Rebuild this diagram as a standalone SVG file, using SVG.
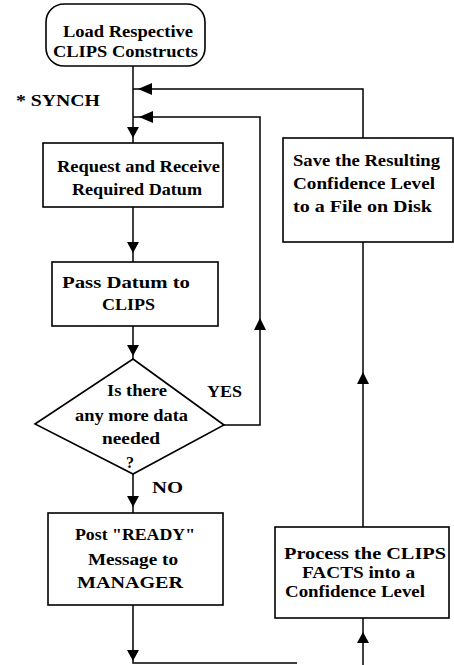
<svg xmlns="http://www.w3.org/2000/svg" width="454" height="665" viewBox="0 0 454 665">
<style>
.box{fill:#fff;stroke:#000;stroke-width:1.6}
.ln{fill:none;stroke:#000;stroke-width:1.5}
.ah{fill:#000;stroke:none}
text{font-family:"Liberation Serif","Times New Roman",serif;font-weight:bold;font-size:16px;fill:#000}
</style>
<rect width="454" height="665" fill="#fff"/>
<g id="connectors">
<path class="ln" d="M133 66 V143"/>
<path class="ln" d="M133 207 V262"/>
<path class="ln" d="M133 326 V359"/>
<path class="ln" d="M133 474 V513"/>
<path class="ln" d="M133 605 V663 H297"/>
<path class="ln" d="M224 425 H260 V117 H133"/>
<path class="ln" d="M363 665 V618"/>
<path class="ln" d="M363 527 V242"/>
<path class="ln" d="M363 138 V89 H133"/>
<path class="ah" d="M127 127 L139 127 L133 138 Z"/>
<path class="ah" d="M127 242 L139 242 L133 253 Z"/>
<path class="ah" d="M127 345 L139 345 L133 356 Z"/>
<path class="ah" d="M127 496 L139 496 L133 507 Z"/>
<path class="ah" d="M127 650 L139 650 L133 661 Z"/>
<path class="ah" d="M138 89 L152 83 L152 95 Z"/>
<path class="ah" d="M139 117 L153 111 L153 123 Z"/>
<path class="ah" d="M254 330 L266 330 L260 318 Z"/>
<path class="ah" d="M357 384 L369 384 L363 372 Z"/>
<path class="ah" d="M357 643 L369 643 L363 632 Z"/>
<text x="16" y="106" textLength="84" lengthAdjust="spacingAndGlyphs">* SYNCH</text>
<text x="207" y="397" textLength="35" lengthAdjust="spacingAndGlyphs">YES</text>
<text x="152" y="493" textLength="31" lengthAdjust="spacingAndGlyphs">NO</text>
</g>
<g id="start">
<rect class="box" x="46" y="4" width="159" height="62" rx="18"/>
<text x="63" y="37" textLength="130" lengthAdjust="spacingAndGlyphs">Load Respective</text>
<text x="53" y="57" textLength="145" lengthAdjust="spacingAndGlyphs">CLIPS Constructs</text>
</g>
<g id="request">
<rect class="box" x="43" y="143" width="180" height="64"/>
<text x="57" y="172" textLength="163" lengthAdjust="spacingAndGlyphs">Request and Receive</text>
<text x="72" y="195" textLength="130" lengthAdjust="spacingAndGlyphs">Required Datum</text>
</g>
<g id="pass">
<rect class="box" x="52" y="262" width="166" height="64"/>
<text x="62" y="288" textLength="128" lengthAdjust="spacingAndGlyphs">Pass Datum to</text>
<text x="102" y="310" textLength="53" lengthAdjust="spacingAndGlyphs">CLIPS</text>
</g>
<g id="decision">
<path class="box" d="M133 359 L224 425 L133 474 L35 424 Z"/>
<text x="107" y="396" textLength="60" lengthAdjust="spacingAndGlyphs">Is there</text>
<text x="75" y="421" textLength="113" lengthAdjust="spacingAndGlyphs">any more data</text>
<text x="102" y="444" textLength="58" lengthAdjust="spacingAndGlyphs">needed</text>
<text x="126" y="468">?</text>
</g>
<g id="post">
<rect class="box" x="48" y="513" width="175" height="92"/>
<text x="75" y="540" textLength="120" lengthAdjust="spacingAndGlyphs">Post "READY"</text>
<text x="88" y="565" textLength="90" lengthAdjust="spacingAndGlyphs">Message to</text>
<text x="77" y="588" textLength="106" lengthAdjust="spacingAndGlyphs">MANAGER</text>
</g>
<g id="save">
<rect class="box" x="283" y="138" width="170" height="104"/>
<text x="293" y="166" textLength="147" lengthAdjust="spacingAndGlyphs">Save the Resulting</text>
<text x="293" y="189" textLength="142" lengthAdjust="spacingAndGlyphs">Confidence Level</text>
<text x="293" y="212" textLength="139" lengthAdjust="spacingAndGlyphs">to a File on Disk</text>
</g>
<g id="process">
<rect class="box" x="275" y="527" width="174" height="91"/>
<text x="284" y="559" textLength="162" lengthAdjust="spacingAndGlyphs">Process the CLIPS</text>
<text x="302" y="578" textLength="113" lengthAdjust="spacingAndGlyphs">FACTS into a</text>
<text x="285" y="597" textLength="140" lengthAdjust="spacingAndGlyphs">Confidence Level</text>
</g>
</svg>
